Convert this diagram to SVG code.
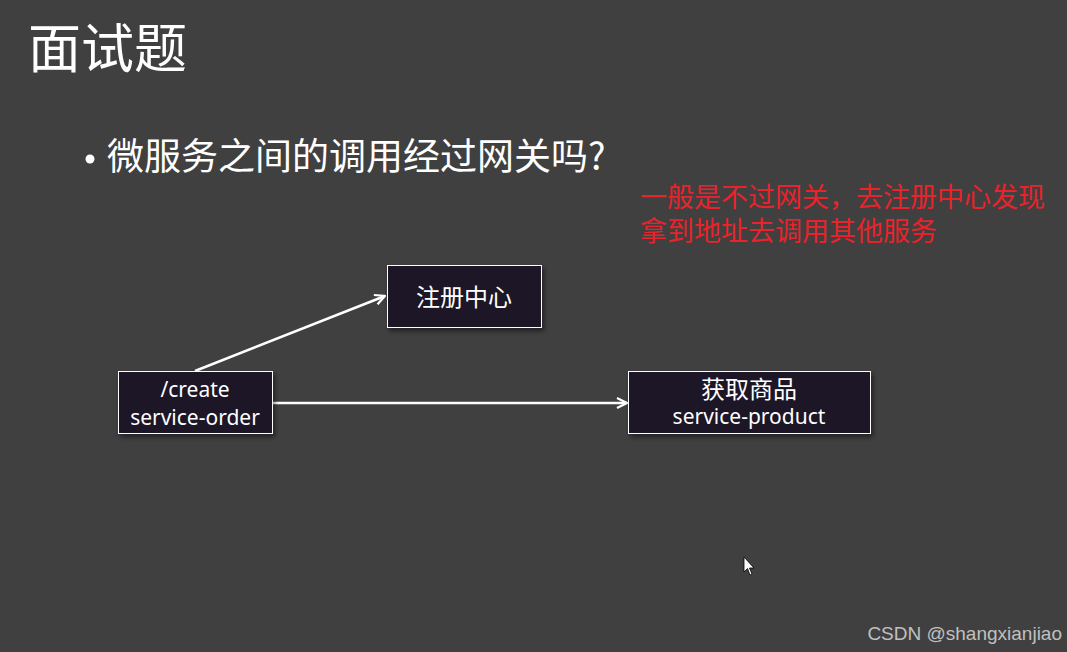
<svg xmlns="http://www.w3.org/2000/svg" width="1067" height="652" viewBox="0 0 1067 652">
<style>
.cjk{font-family:"Noto Sans CJK SC","Noto Sans",sans-serif;}
.box{fill:#1e1426;stroke:#ffffff;stroke-width:1;filter:url(#sh);}
.lbl{fill:#ffffff;font-family:"Noto Sans","Noto Sans CJK SC",sans-serif;font-size:21px;text-anchor:middle;}
.edge{stroke:#ffffff;stroke-width:2.5;fill:none;marker-end:url(#ah);}
</style>
<defs>
<marker id="ah" viewBox="0 0 12 12" refX="11" refY="6" markerWidth="12" markerHeight="12" markerUnits="userSpaceOnUse" orient="auto">
<path d="M1,1 L11,6 L1,11" fill="none" stroke="#ffffff" stroke-width="2.2"/>
</marker>
<filter id="sh" x="-10%" y="-10%" width="130%" height="140%">
<feDropShadow dx="2" dy="3" stdDeviation="2.5" flood-color="#000" flood-opacity="0.5"/>
</filter>
</defs>
<rect width="1067" height="652" fill="#404040"/>
<text class="cjk" x="28" y="68" font-size="53" fill="#ffffff">面试题</text>
<circle cx="90" cy="159" r="4.5" fill="#ffffff"/>
<text class="cjk" x="107" y="170" font-size="37" fill="#ffffff">微服务之间的调用经过网关吗?</text>
<g class="cjk" font-size="27" fill="#e8232b">
<text x="640" y="207">一般是不过网关，去注册中心发现</text>
<text x="640" y="241">拿到地址去调用其他服务</text>
</g>
<g id="connectors">
<line class="edge" x1="195" y1="371" x2="385" y2="296"/>
<line class="edge" x1="273" y1="403" x2="627" y2="403"/>
</g>
<g id="registry">
<rect class="box" x="387.5" y="265.5" width="154" height="62"/>
<text class="lbl cjk" x="464" y="306" style="font-size:24px">注册中心</text>
</g>
<g id="order">
<rect class="box" x="118.5" y="371.5" width="154" height="62"/>
<text class="lbl" x="195" y="397">/create</text>
<text class="lbl" x="195" y="425">service-order</text>
</g>
<g id="product">
<rect class="box" x="628.5" y="371.5" width="242" height="62"/>
<text class="lbl cjk" x="749" y="398" style="font-size:24px">获取商品</text>
<text class="lbl" x="749" y="424">service-product</text>
</g>
<path d="M744,557 L744,572 L747.5,568.5 L750,575 L752,574 L749.5,568 L754,568 Z" fill="#ffffff" stroke="#000" stroke-width="0.8"/>
<text x="1062" y="640" text-anchor="end" font-family="Liberation Sans,Arial,sans-serif" font-size="19" fill="#c0c0c0">CSDN @shangxianjiao</text>
</svg>
